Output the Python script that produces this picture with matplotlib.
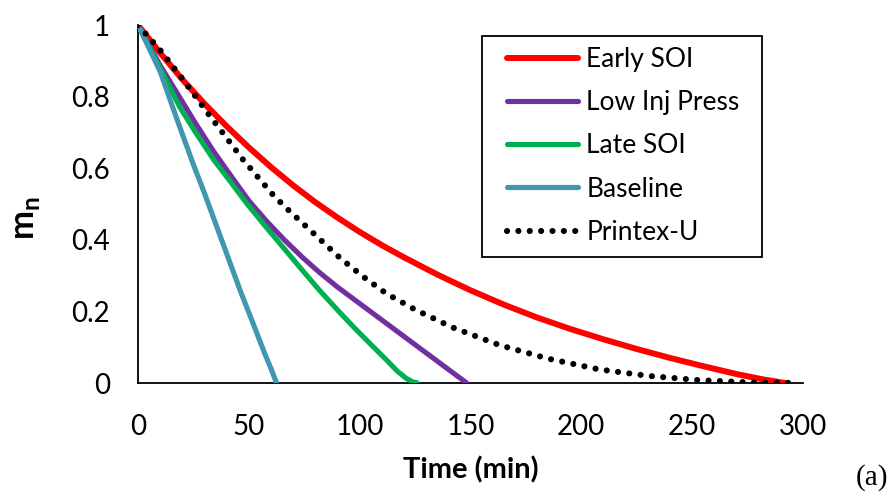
import matplotlib
matplotlib.use("Agg")
import matplotlib.pyplot as plt
from matplotlib.patches import Rectangle

# ---- data ----
early_t = [0, 10, 20, 30, 40, 50, 60, 70, 80, 90, 100, 110, 120, 135, 150, 165, 180, 195, 210, 225, 240, 255, 270, 282, 292]
early_m = [1.0, 0.922, 0.848, 0.78, 0.717, 0.658, 0.603, 0.552, 0.505, 0.462, 0.422, 0.385, 0.351, 0.303, 0.259, 0.219,
           0.183, 0.151, 0.122, 0.095, 0.07, 0.047, 0.025, 0.01, 0.0]

lowinj_t = [0, 10, 18.9, 26, 34, 42, 50, 58, 66, 74, 82, 90, 100, 115, 130, 148.3]
lowinj_m = [1.0, 0.887, 0.797, 0.725, 0.648, 0.578, 0.509, 0.452, 0.4, 0.352, 0.308, 0.268, 0.222, 0.153, 0.084, 0.0]

late_t = [0, 10, 18.9, 26, 34, 42, 49, 58, 66, 74, 82, 90, 97, 105, 112, 117, 121, 124, 126]
late_m = [1.0, 0.88, 0.77, 0.70, 0.625, 0.56, 0.502, 0.434, 0.375, 0.316, 0.258, 0.204, 0.158, 0.108, 0.065, 0.033, 0.013, 0.003, 0.0]

base_t = [0, 5, 10, 17.5, 25, 30, 38, 46, 52, 57, 60, 62.5]
base_m = [1.0, 0.935, 0.87, 0.738, 0.61, 0.53, 0.395, 0.26, 0.165, 0.085, 0.04, 0.0]

printex_t = [0, 10, 20, 31.7, 47.5, 61, 67, 80.6, 91, 101.6, 112, 125, 142, 163, 185, 208, 230, 253, 275, 298]
printex_m = [1.0, 0.93, 0.85, 0.752, 0.623, 0.525, 0.488, 0.41, 0.35, 0.297, 0.25, 0.205, 0.155, 0.106, 0.068, 0.038, 0.02, 0.008, 0.002, 0.0]

x_ticks = [0, 50, 100, 150, 200, 250, 300]
y_ticks = [0, 0.2, 0.4, 0.6, 0.8, 1.0]
y_tick_labels = ["0", "0.2", "0.4", "0.6", "0.8", "1"]

plt.rcParams['font.family'] = ['Lato', 'DejaVu Sans']
plt.rcParams['mathtext.fontset'] = 'custom'
plt.rcParams['mathtext.bf'] = 'Lato:bold'
plt.rcParams['mathtext.rm'] = 'Lato'

W, H = 896, 500
fig = plt.figure(figsize=(W/100, H/100), dpi=100)
ax = fig.add_axes([138/W, 1-383/H, (803-138)/W, (383-25)/H])

ax.plot(early_t, early_m, color='#FF0000', lw=4.3, solid_capstyle='round', solid_joinstyle='round',
        label='Early SOI', zorder=3)
ax.plot(lowinj_t, lowinj_m, color='#7030A0', lw=3.7, solid_capstyle='round', solid_joinstyle='round',
        label='Low Inj Press', zorder=3)
ax.plot(late_t, late_m, color='#00B050', lw=3.7, solid_capstyle='round', solid_joinstyle='round',
        label='Late SOI', zorder=3)
ax.plot(base_t, base_m, color='#4097AF', lw=3.7, solid_capstyle='round', solid_joinstyle='round',
        label='Baseline', zorder=3)
ax.plot(printex_t, printex_m, color='black', lw=4.4, linestyle=(0, (0.01, 1.85)),
        dash_capstyle='round', label='Printex-U', zorder=4)

ax.set_xlim(0, 300)
ax.set_ylim(0, 1)
ax.set_xticks(x_ticks)
ax.set_yticks(y_ticks)
ax.set_yticklabels(y_tick_labels)
ax.tick_params(length=0, labelsize=20)
ax.tick_params(axis='y', pad=20)
ax.tick_params(axis='x', pad=22)
for s in ['top', 'right']:
    ax.spines[s].set_visible(False)
for s in ['left', 'bottom']:
    ax.spines[s].set_linewidth(1.3)
ax.spines['left'].set_zorder(1)

ax.set_xlabel('Time (min)', fontsize=21, fontweight='bold', labelpad=12)
fig.text(26/W, 1-218/H, r'$\mathbf{m}_\mathbf{n}$', fontsize=25, rotation=90,
         ha='center', va='center')

# legend box drawn separately (inside the axes so it stacks under the legend)
box = Rectangle((482/W, 1-257/H), (762-482)/W, (257-36)/H,
                transform=fig.transFigure, facecolor='white',
                edgecolor='black', linewidth=1.3, zorder=5, clip_on=False)
ax.add_patch(box)
leg = ax.legend(loc='upper left', bbox_to_anchor=(507/W, 1-47/H),
                bbox_transform=fig.transFigure, borderaxespad=0,
                fontsize=19, handlelength=2.7, handletextpad=0.3,
                labelspacing=0.69, borderpad=0.0, frameon=False)
leg.set_zorder(6)

fig.text(872/W, 1-478/H, '(a)', fontsize=21, family='Liberation Serif',
         ha='center', va='center')

fig.savefig('out.png', dpi=100)
